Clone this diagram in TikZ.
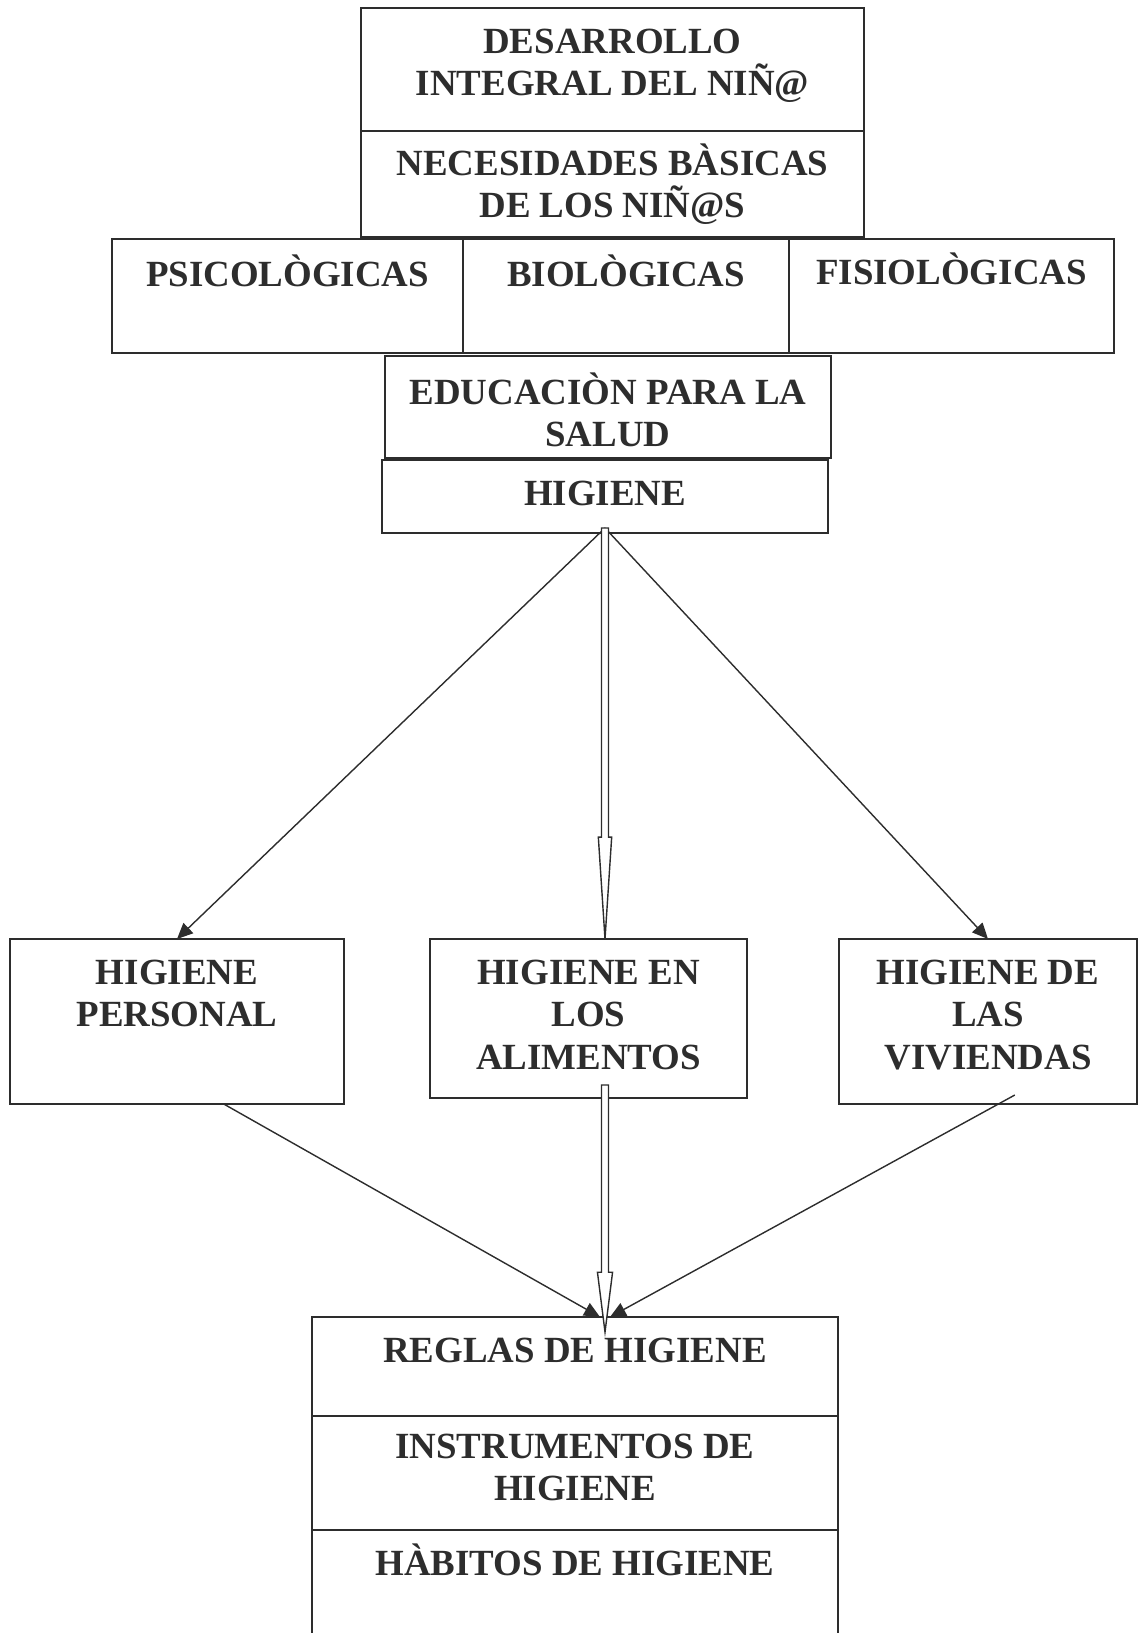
\documentclass[tikz,border=0pt]{standalone}
\usepackage{fontspec}
\setmainfont{Liberation Serif}
\usetikzlibrary{positioning,calc,arrows.meta}
\definecolor{ink}{HTML}{2D2D2D}
\begin{document}
\begin{tikzpicture}[
            box/.style = {
                rectangle,
                draw = ink,
                line width = 1.1pt,
                inner sep = 0pt,
                outer sep = 0pt},
            txt/.style = {
                align = center,
                inner sep = 0pt,
                text = ink,
                font = \fontsize{21}{24}\selectfont\bfseries},
            arrow/.style = {
                draw = ink,
                line width = 0.8pt,
                -{Triangle[length=9pt, width=8pt]}},
            hollow/.style = {
                draw = ink,
                line width = 0.8pt,
                fill = white}]
        \useasboundingbox (0,0) rectangle (22.86,-32.66);
        \clip (0,0) rectangle (22.86,-32.66);
        % Place boxes
        \node [box, minimum width=10.06cm, minimum height=2.46cm] (desarrollo) at (12.25,-1.39) {};
        \node [box, minimum width=10.06cm, minimum height=2.12cm, below=0pt of desarrollo] (necesidades) {};
        \node [box, minimum width=7.02cm, minimum height=2.28cm] (psico) at (5.75,-5.92) {};
        \node [box, minimum width=6.52cm, minimum height=2.28cm, right=0pt of psico] (bio) {};
        \node [box, minimum width=6.50cm, minimum height=2.28cm, right=0pt of bio] (fisio) {};
        \node [box, minimum width=8.92cm, minimum height=2.04cm] (educ) at (12.16,-8.14) {};
        \node [box, minimum width=8.92cm, minimum height=1.46cm] (higiene) at (12.10,-9.93) {};
        \node [box, minimum width=6.68cm, minimum height=3.30cm] (personal) at (3.54,-20.43) {};
        \node [box, minimum width=6.34cm, minimum height=3.18cm] (alimentos) at (11.77,-20.37) {};
        \node [box, minimum width=5.96cm, minimum height=3.30cm] (viviendas) at (19.76,-20.43) {};
        \node [box, minimum width=10.52cm, minimum height=1.98cm] (reglas) at (11.5,-27.33) {};
        \node [box, minimum width=10.52cm, minimum height=2.28cm, below=0pt of reglas] (instr) {};
        \node [box, minimum width=10.52cm, minimum height=2.80cm, below=0pt of instr] (habitos) {};

        % Place texts
        \node [txt, below=0.42cm of desarrollo.north] (desarrollo-t) {DESARROLLO\\INTEGRAL DEL NIÑ@};
        \node [txt, below=0.25cm of necesidades.north] (necesidades-t) {NECESIDADES BÀSICAS\\DE LOS NIÑ@S};
        \node [txt, below=0.31cm of psico.north] (psico-t) {PSICOLÒGICAS};
        \node [txt, below=0.31cm of bio.north] (bio-t) {BIOLÒGICAS};
        \node [txt, below=0.27cm of fisio.north] (fisio-t) {FISIOLÒGICAS};
        \node [txt, below=0.33cm of educ.north] (educ-t) {EDUCACIÒN PARA LA\\SALUD};
        \node [txt, below=0.42cm of higiene.north] (higiene-t) {HIGIENE};
        \node [txt, below=0.42cm of personal.north] (personal-t) {HIGIENE\\PERSONAL};
        \node [txt, below=0.42cm of alimentos.north] (alimentos-t) {HIGIENE EN\\LOS\\ALIMENTOS};
        \node [txt, below=0.42cm of viviendas.north] (viviendas-t) {HIGIENE DE\\LAS\\VIVIENDAS};
        \node [txt, below=0.42cm of reglas.north] (reglas-t) {REGLAS DE HIGIENE};
        \node [txt, below=0.36cm of instr.north] (instr-t) {INSTRUMENTOS DE\\HIGIENE};
        \node [txt, below=0.27cm of habitos.north] (habitos-t) {HÀBITOS DE HIGIENE};

        % Draw edges
        \coordinate (apex) at ($(higiene.south)+(0,0.1)$);
        \path [arrow] (apex) -- (personal.north);
        \path [arrow] (apex) -- (viviendas.north);
        \path [arrow] ($(personal.south west)!0.64!(personal.south east)$) -- ($(apex |- reglas.north)+(-0.1,0)$);
        \path [arrow] ($(viviendas.south west)!0.59!(viviendas.south east)+(0,0.18)$) -- ($(apex |- reglas.north)+(0.1,0)$);
        \draw [hollow] let \p1 = (apex), \p2 = (apex |- alimentos.north) in
            (\x1-2pt,\y1) -- (\x1-2pt,\y2+58pt) -- (\x1-3.8pt,\y2+58pt) -- (\x2,\y2)
            -- (\x1+3.8pt,\y2+58pt) -- (\x1+2pt,\y2+58pt) -- (\x1+2pt,\y1) -- cycle;
        \draw [hollow] let \p1 = ($(apex |- alimentos.south)+(0,0.26)$), \p2 = ($(apex |- reglas.north)+(0,-0.3)$) in
            (\x1-2pt,\y1) -- (\x1-2pt,\y2+34pt) -- (\x1-4.3pt,\y2+34pt) -- (\x2,\y2)
            -- (\x1+4.3pt,\y2+34pt) -- (\x1+2pt,\y2+34pt) -- (\x1+2pt,\y1) -- cycle;
    \end{tikzpicture}
\end{document}
